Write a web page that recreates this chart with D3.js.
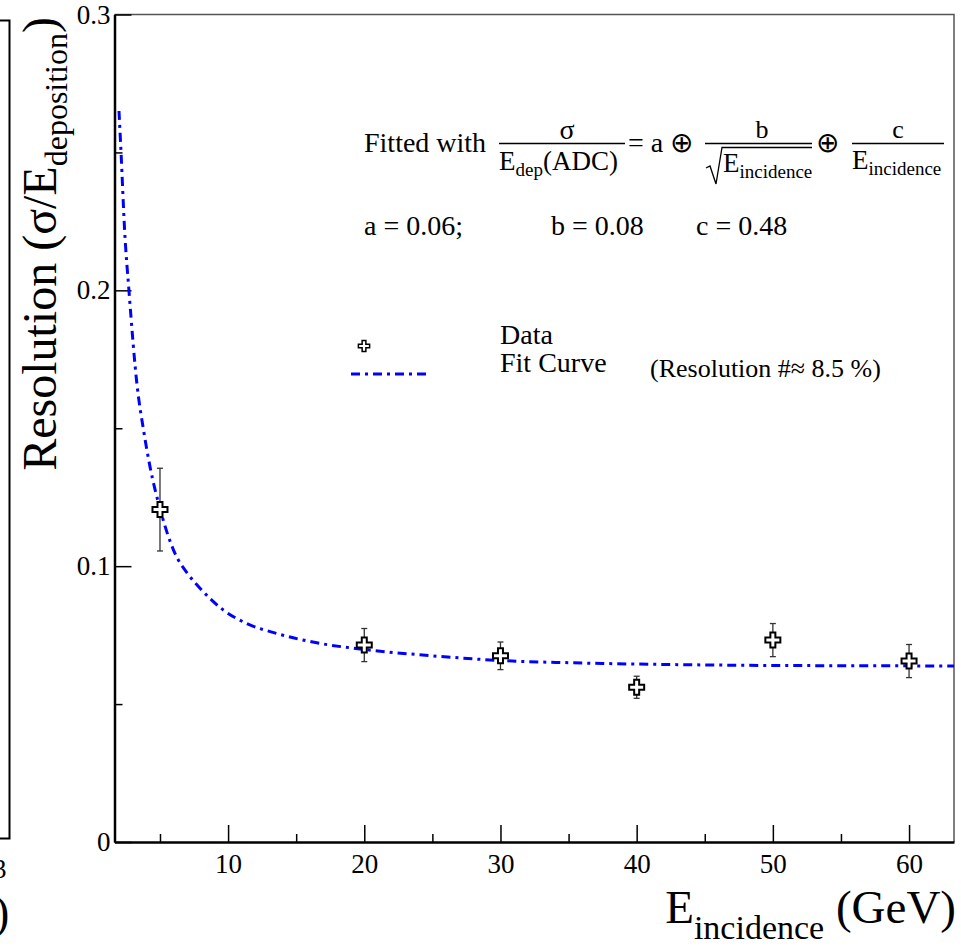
<!doctype HTML>
<html>
<head>
    <style>
        body { margin: 0; background: #fff; }
        text { font-family: "Liberation Serif", "Times New Roman", serif; fill: #000; }
    </style>
    <script src="https://d3js.org/d3.v7.min.js"></script>
</head>
<body>
<div id="resolution"></div>
<script>

    // measured points (beam energy in GeV, resolution, stat error)
    var energies = [5, 20, 30, 40, 50, 60];
    var resolution = [0.1205, 0.0714, 0.0675, 0.0561, 0.0732, 0.0656];
    var resError = [0.015, 0.006, 0.005, 0.004, 0.006, 0.006];

    // fit curve
    var fitEnergy = [1.99, 2.14, 2.40, 2.72, 3.33, 3.77, 4.27, 5.05, 6.1, 7.0, 7.94, 9.65,
                     11.37, 13.57, 16.75, 20.2, 25, 30, 35, 43, 50, 57, 63.3];
    var fitRes = [0.265, 0.250, 0.222, 0.200, 0.165, 0.150, 0.136, 0.120, 0.1046, 0.0975, 0.0920, 0.0841,
                  0.0792, 0.0756, 0.0720, 0.0697, 0.0675, 0.0658, 0.0650, 0.0643, 0.0640, 0.0639, 0.0638];

    var xTicks = [10, 20, 30, 40, 50, 60];
    var xMinorTicks = [5, 15, 25, 35, 45, 55];
    var yTicks = [0, 0.1, 0.2, 0.3];
    var yMinorTicks = [0.05, 0.15, 0.25];
    var fitParams = ["a = 0.06;", "b = 0.08", "c = 0.48"];

    var canvasWidth = 961;
    var canvasHeight = 948;
    var frame = {left: 114.5, right: 954, top: 14.5, bottom: 842};

    var svg = d3.select("#resolution").append("svg")
        .attr("width", canvasWidth)
        .attr("height", canvasHeight)
        .attr("font-family", "Liberation Serif");

    var x = d3.scaleLinear().domain([1.66, 63.3]).range([frame.left, frame.right]);
    var y = d3.scaleLinear().domain([0, 0.3]).range([frame.bottom, frame.top]);

    // remains of the neighbouring pad on the left (cut by the image edge)
    svg.append("path")
        .attr("d", "M0,20.5H9.5V838.5H0")
        .attr("fill", "none")
        .attr("stroke", "#000")
        .attr("stroke-width", 2);
    svg.append("text").attr("x", -7).attr("y", 878).attr("font-size", "27px").text("3");
    svg.append("text").attr("x", -6).attr("y", 928).attr("font-size", "46px").text(")");

    // frame: top and right
    svg.append("path")
        .attr("d", "M" + frame.left + "," + frame.top + "H" + frame.right + "V" + frame.bottom)
        .attr("fill", "none")
        .attr("stroke", "#555")
        .attr("stroke-width", 1.5);

    // x axis
    var xAxis = d3.axisBottom(x).tickValues(xTicks).tickSizeInner(-17).tickSizeOuter(0).tickFormat(d3.format("d"));
    var gx = svg.append("g")
        .attr("transform", "translate(0," + frame.bottom + ")")
        .call(xAxis)
        .attr("font-family", null);
    gx.select(".domain").attr("stroke", "#000").attr("stroke-width", 2.5);
    gx.selectAll(".tick line").attr("stroke", "#000").attr("stroke-width", 1.5);
    gx.selectAll(".tick text")
        .attr("y", 31)
        .attr("dy", 0)
        .attr("font-size", "27px");
    var gxMinor = svg.append("g")
        .attr("transform", "translate(0," + frame.bottom + ")")
        .call(d3.axisBottom(x).tickValues(xMinorTicks).tickSize(-8).tickFormat(""));
    gxMinor.select(".domain").remove();
    gxMinor.selectAll(".tick line").attr("stroke", "#000").attr("stroke-width", 1.5);

    // y axis
    var yAxis = d3.axisLeft(y).tickValues(yTicks).tickSizeInner(-17).tickSizeOuter(0)
        .tickFormat(function(d){ return d === 0 ? "0" : d3.format(".1f")(d); });
    var gy = svg.append("g")
        .attr("transform", "translate(" + frame.left + ",0)")
        .call(yAxis)
        .attr("font-family", null);
    gy.select(".domain").attr("stroke", "#000").attr("stroke-width", 2.5);
    gy.selectAll(".tick line").attr("stroke", "#000").attr("stroke-width", 1.5);
    gy.selectAll(".tick text")
        .attr("x", -4)
        .attr("dy", "0.32em")
        .attr("font-size", "27px");
    var gyMinor = svg.append("g")
        .attr("transform", "translate(" + frame.left + ",0)")
        .call(d3.axisLeft(y).tickValues(yMinorTicks).tickSize(-8).tickFormat(""));
    gyMinor.select(".domain").remove();
    gyMinor.selectAll(".tick line").attr("stroke", "#000").attr("stroke-width", 1.5);

    // axis titles
    var yTitle = svg.append("text")
        .attr("transform", "translate(56,17) rotate(-90)")
        .attr("text-anchor", "end")
        .attr("font-size", "48px");
    yTitle.append("tspan").text("Resolution (\u03c3/E");
    yTitle.append("tspan").attr("font-size", "32px").attr("dy", 11).text("deposition");
    yTitle.append("tspan").attr("dy", -11).text(")");

    var xTitle = svg.append("text")
        .attr("x", 956)
        .attr("y", 923)
        .attr("text-anchor", "end")
        .attr("font-size", "47px");
    xTitle.append("tspan").text("E");
    xTitle.append("tspan").attr("font-size", "34px").attr("dy", 16).text("incidence");
    xTitle.append("tspan").attr("dy", -16).text(" (GeV)");

    // clip for the curve
    svg.append("clipPath").attr("id", "frameClip")
        .append("rect")
        .attr("x", frame.left).attr("y", frame.top)
        .attr("width", frame.right - frame.left).attr("height", frame.bottom - frame.top);

    var fitData = fitEnergy.map(function(e, i){ return {e: e, r: fitRes[i]}; });
    var line = d3.line()
        .x(function(d){ return x(d.e); })
        .y(function(d){ return y(d.r); })
        .curve(d3.curveMonotoneX);

    var dashDot = "9,5,3,5";

    svg.append("path")
        .datum(fitData)
        .attr("clip-path", "url(#frameClip)")
        .attr("d", line)
        .attr("fill", "none")
        .attr("stroke", "#0000ff")
        .attr("stroke-width", 3)
        .attr("stroke-dasharray", dashDot);

    // data points with error bars
    var points = energies.map(function(e, i){ return {e: e, r: resolution[i], err: resError[i]}; });

    var bars = svg.append("g").selectAll("g")
        .data(points)
        .join("g");
    bars.append("line")
        .attr("x1", function(d){ return x(d.e); })
        .attr("x2", function(d){ return x(d.e); })
        .attr("y1", function(d){ return y(d.r + d.err); })
        .attr("y2", function(d){ return y(d.r - d.err); })
        .attr("stroke", "#333")
        .attr("stroke-width", 1.3);
    bars.selectAll(".cap")
        .data(function(d){ return [d.r + d.err, d.r - d.err].map(function(v){ return {e: d.e, v: v}; }); })
        .join("line")
        .attr("class", "cap")
        .attr("x1", function(d){ return x(d.e) - 3; })
        .attr("x2", function(d){ return x(d.e) + 3; })
        .attr("y1", function(d){ return y(d.v); })
        .attr("y2", function(d){ return y(d.v); })
        .attr("stroke", "#333")
        .attr("stroke-width", 1.3);

    var cross = d3.symbol().type(d3.symbolCross).size(125);
    svg.append("g").selectAll("path")
        .data(points)
        .join("path")
        .attr("transform", function(d){ return "translate(" + x(d.e) + "," + y(d.r) + ")"; })
        .attr("d", cross)
        .attr("fill", "#fff")
        .attr("stroke", "#000")
        .attr("stroke-width", 2);

    // fit formula
    var f = svg.append("g").attr("font-size", "28px");
    f.append("text").attr("x", 364).attr("y", 152).text("Fitted with");

    f.append("text").attr("x", 567).attr("y", 139).attr("text-anchor", "middle").text("\u03c3");
    f.append("line").attr("x1", 499).attr("x2", 625).attr("y1", 143.5).attr("y2", 143.5)
        .attr("stroke", "#000").attr("stroke-width", 1.3);
    var den1 = f.append("text").attr("x", 499).attr("y", 170).attr("font-size", "27px");
    den1.append("tspan").text("E");
    den1.append("tspan").attr("font-size", "19px").attr("dy", 6).text("dep");
    den1.append("tspan").attr("dy", -6).text("(ADC)");

    f.append("text").attr("x", 628).attr("y", 152).text("= a \u2295");

    f.append("text").attr("x", 762).attr("y", 138).attr("text-anchor", "middle").attr("font-size", "26px").text("b");
    f.append("line").attr("x1", 705).attr("x2", 812).attr("y1", 143.5).attr("y2", 143.5)
        .attr("stroke", "#000").attr("stroke-width", 1.3);
    f.append("path")
        .attr("d", "M706,168L710,166L716,184L722,147.5H812")
        .attr("fill", "none").attr("stroke", "#000").attr("stroke-width", 1.3);
    var den2 = f.append("text").attr("x", 723).attr("y", 172).attr("font-size", "27px");
    den2.append("tspan").text("E");
    den2.append("tspan").attr("font-size", "19px").attr("dy", 6).text("incidence");

    f.append("text").attr("x", 816).attr("y", 152).text("\u2295");

    f.append("text").attr("x", 898).attr("y", 138).attr("text-anchor", "middle").attr("font-size", "26px").text("c");
    f.append("line").attr("x1", 852).attr("x2", 944).attr("y1", 143.5).attr("y2", 143.5)
        .attr("stroke", "#000").attr("stroke-width", 1.3);
    var den3 = f.append("text").attr("x", 852).attr("y", 169).attr("font-size", "27px");
    den3.append("tspan").text("E");
    den3.append("tspan").attr("font-size", "19px").attr("dy", 6).text("incidence");

    // fit parameters
    var paramX = [364, 551, 696];
    f.selectAll(".param")
        .data(fitParams)
        .join("text")
        .attr("class", "param")
        .attr("x", function(d, i){ return paramX[i]; })
        .attr("y", 235)
        .text(function(d){ return d; });

    // legend
    svg.append("path")
        .attr("transform", "translate(364,346)")
        .attr("d", d3.symbol().type(d3.symbolCross).size(70))
        .attr("fill", "#fff")
        .attr("stroke", "#000")
        .attr("stroke-width", 1.5);
    svg.append("line")
        .attr("x1", 351).attr("x2", 428).attr("y1", 374).attr("y2", 374)
        .attr("stroke", "#0000ff")
        .attr("stroke-width", 3)
        .attr("stroke-dasharray", dashDot);
    svg.append("text").attr("x", 500).attr("y", 344).attr("font-size", "28px").text("Data");
    svg.append("text").attr("x", 500).attr("y", 372).attr("font-size", "28px").text("Fit Curve");
    svg.append("text").attr("x", 650).attr("y", 377).attr("font-size", "26px").text("(Resolution #\u2248 8.5 %)");

</script>
</body>
</html>
